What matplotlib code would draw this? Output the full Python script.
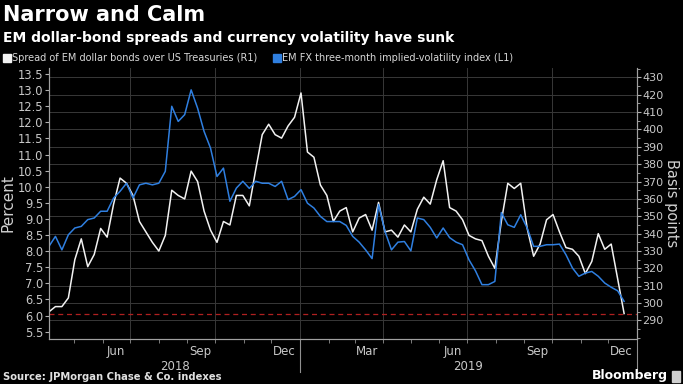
import matplotlib
matplotlib.use('Agg')
import matplotlib.pyplot as plt
import matplotlib.dates as mdates
import matplotlib.transforms as mtransforms
from matplotlib.lines import Line2D
from matplotlib.patches import Rectangle
import pandas as pd

# weekly readings, first one on 2018-04-04
week_start = '2018-04-04'

# EM FX three-month implied-volatility index, percent (left axis)
fx_vol = [8.15, 8.46, 8.04, 8.51, 8.72, 8.77, 8.98, 9.03, 9.24, 9.24,
          9.65, 9.86, 10.11, 9.65, 10.06, 10.11, 10.06, 10.11, 10.48, 12.50,
          12.03, 12.24, 13.01, 12.44, 11.72, 11.20, 10.32, 10.58, 9.55, 9.96,
          10.17, 9.95, 10.17, 10.11, 10.11, 10.01, 10.17, 9.60, 9.70, 9.91,
          9.49, 9.34, 9.08, 8.92, 8.92, 8.92, 8.80, 8.46, 8.28, 8.04,
          7.77, 9.45, 8.61, 8.04, 8.28, 8.30, 8.01, 9.03, 8.98, 8.74,
          8.41, 8.72, 8.42, 8.28, 8.20, 7.73, 7.39, 6.96, 6.96, 7.06,
          9.20, 8.82, 8.74, 9.13, 8.72, 8.15, 8.15, 8.20, 8.20, 8.22,
          7.89, 7.48, 7.22, 7.32, 7.37, 7.22, 7.01, 6.88, 6.77, 6.44]

# spread of EM dollar bonds over US Treasuries, basis points (right axis)
spread = [295, 298, 298, 303, 325, 337, 321, 328, 343, 338,
          357, 372, 369, 362, 347, 341, 335, 330, 339, 365,
          362, 360, 376, 370, 353, 342, 335, 347, 345, 362,
          362, 356, 377, 397, 403, 397, 395, 402, 407, 421,
          387, 384, 368, 362, 347, 353, 355, 341, 349, 351,
          342, 358, 341, 342, 338, 345, 341, 354, 361, 357,
          371, 382, 355, 353, 348, 339, 337, 336, 327, 320,
          347, 369, 366, 369, 343, 327, 334, 348, 351, 341,
          332, 331, 327, 317, 324, 340, 331, 334, 314, 294]

years = ['2018', '2019']
year_mid = ['2018-08-18', '2019-07-02']
year_end = ['2019-01-01', '2020-01-01']

dates = pd.date_range(week_start, periods=len(fx_vol), freq='7D')

white = '#f2f2f2'
blue = '#2f7fe0'
grid_c = '#383838'
tick_c = '#c8c8c8'

fig = plt.figure(figsize=(6.83, 3.84), dpi=100, facecolor='black')
ax = fig.add_axes([0.0717, 0.117, 0.861, 0.706])
ax2 = ax.twinx()

# blue on top of white, grid at the bottom
ax.set_zorder(2)
ax2.set_zorder(1)
ax.patch.set_visible(False)
ax2.patch.set_visible(True)
ax2.patch.set_facecolor('black')

ax2.plot(dates, spread, color=white, lw=1.1, zorder=3)
ax2.axhline(spread[-1], color='#b02020', lw=0.9, ls=(0, (4, 3)), zorder=2)
ax.plot(dates, fx_vol, color=blue, lw=1.1)

ax.set_xlim(pd.Timestamp(week_start), pd.Timestamp(year_end[-1]))
ax.set_ylim(5.27, 13.69)
ax2.set_ylim(279.3, 435.4)

# grid: horizontal on the right scale, vertical at quarter starts
ax2.set_yticks(range(290, 431, 10))
ax2.yaxis.set_minor_locator(plt.MultipleLocator(5))
ax2.grid(axis='y', color=grid_c, lw=0.7, zorder=0)
for q in pd.date_range('2018-07-01', '2019-10-01', freq='QS'):
    ax2.axvline(q, color=grid_c, lw=0.7, zorder=0)

ax.set_yticks([5.5 + 0.5 * i for i in range(17)])
ax.yaxis.set_major_formatter(plt.FormatStrFormatter('%.1f'))

ax.xaxis.set_major_locator(mdates.MonthLocator(bymonth=[3, 6, 9, 12], bymonthday=15))
ax.xaxis.set_major_formatter(mdates.DateFormatter('%b'))
ax.xaxis.set_minor_locator(mdates.MonthLocator())

ax.tick_params(axis='x', which='major', length=0, pad=4, labelsize=8.5, labelcolor=tick_c)
ax.tick_params(axis='x', which='minor', length=3, color='#909090')
ax.tick_params(axis='y', which='major', length=3, color='#b0b0b0', labelsize=8.3,
               labelcolor=tick_c, pad=1)
ax2.tick_params(axis='y', which='major', length=3, color='#b0b0b0', labelsize=8,
                labelcolor=tick_c, pad=1)
ax2.tick_params(axis='y', which='minor', length=2, color='#b0b0b0')

for a in (ax, ax2):
    for s in a.spines.values():
        s.set_color('#a0a0a0')
        s.set_linewidth(0.8)
    a.spines['top'].set_visible(False)

ax.set_ylabel('Percent', fontsize=11, color='#d0d0d0', labelpad=2)
ax2.set_ylabel('Basis points', fontsize=10.5, color='#d0d0d0', rotation=270,
               va='bottom', labelpad=0)

# year labels and separators under the axis
trans = mtransforms.blended_transform_factory(ax.transData, ax.transAxes)
for y, m, e in zip(years, year_mid, year_end):
    ax.text(pd.Timestamp(m), -0.1, y, transform=trans, ha='center', va='center',
            fontsize=8.5, color=tick_c)
    ax.plot([pd.Timestamp(e)] * 2, [0, -0.12], transform=trans, color='#909090',
            lw=0.8, clip_on=False)

fig.text(0.004, 1 - 15 / 384, 'Narrow and Calm', fontsize=15, weight='bold',
         color='white', va='center')
fig.text(0.004, 1 - 38 / 384, 'EM dollar-bond spreads and currency volatility have sunk',
         fontsize=10, weight='bold', color='white', va='center')

handles = [Line2D([], [], ls='none', marker='s', ms=5.5, color=white),
           Line2D([], [], ls='none', marker='s', ms=5.5, color=blue)]
labels = ['Spread of EM dollar bonds over US Treasuries (R1)',
          'EM FX three-month implied-volatility index (L1)']
fig.legend(handles, labels, loc='center left', bbox_to_anchor=(-0.002, 1 - 58 / 384),
           ncol=2, frameon=False, fontsize=7, labelcolor='#d8d8d8',
           handletextpad=0.0, columnspacing=1.5, handlelength=1.0, borderaxespad=0)

fig.text(0.004, 1 - 377 / 384, 'Source: JPMorgan Chase & Co. indexes', fontsize=7.2,
         weight='bold', color='#e0e0e0', va='center')
fig.text(0.978, 1 - 376 / 384, 'Bloomberg', fontsize=9, weight='bold',
         color='white', va='center', ha='right')
fig.patches.append(Rectangle((0.984, 1 - 382 / 384), 0.012, 11 / 384,
                             transform=fig.transFigure, color='#d0d0d0'))

fig.savefig('out.png', dpi=100, facecolor='black')
